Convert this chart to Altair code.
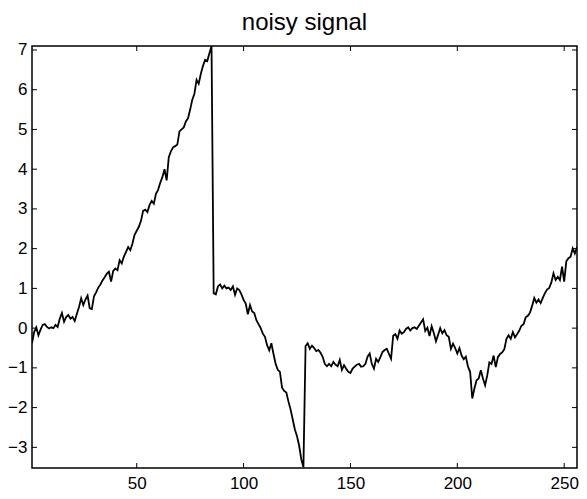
import altair as alt
import pandas as pd

# signal values, sample index 1..256
seg_a = [-0.38, -0.10, 0.02, -0.18, -0.04, 0.08, 0.10, 0.03, -0.01, 0.02,
         0.00, 0.08, 0.03, 0.24, 0.38, 0.16, 0.28, 0.33, 0.24, 0.28,
         0.18, 0.36, 0.53, 0.75, 0.58, 0.72, 0.82, 0.50, 0.48, 0.80,
         0.90, 1.02, 1.10, 1.20, 1.28, 1.37, 1.42, 1.17, 1.44, 1.50,
         1.46, 1.71, 1.63, 1.80, 1.92, 2.04, 1.96, 2.13]
seg_b = [2.35, 2.45, 2.55, 2.70, 2.95, 2.98, 2.92, 3.10, 3.20, 3.13,
         3.38, 3.48, 3.66, 3.80, 4.00, 3.72, 4.30, 4.45, 4.55, 4.58,
         4.62, 4.95, 5.00, 5.05, 5.20, 5.28, 5.50, 5.75, 5.90, 6.25,
         6.15, 6.40, 6.60, 6.75, 6.72, 6.92, 7.10]
seg_c = [0.88, 0.85, 1.05, 1.10, 1.00, 1.07, 1.00, 1.02, 0.96, 1.05,
         0.84, 1.00, 0.96, 0.85, 0.71, 0.62, 0.35, 0.58, 0.42, 0.38,
         0.20, 0.10, 0.00, -0.14, -0.22, -0.43, -0.56, -0.38, -0.65, -0.90,
         -1.05, -1.10, -1.50, -1.58, -1.62, -1.85, -2.05, -2.30, -2.55, -2.72,
         -2.96, -3.30, -3.50]
seg_d = [-0.45, -0.38, -0.52, -0.44, -0.50, -0.58, -0.55, -0.62, -0.72, -0.90,
         -0.96, -0.90, -0.96, -0.85, -0.92, -0.96, -0.80, -1.05, -0.93, -1.02,
         -1.10, -1.13, -1.02, -0.97, -0.92, -0.90, -0.97, -0.96, -0.90, -0.72,
         -0.64, -0.90, -1.02, -0.77, -0.85, -0.73, -0.60, -0.55, -0.52, -0.65,
         -0.77, -0.19, -0.15, -0.27, -0.06, -0.14, -0.10, -0.02, 0.02, -0.06,
         0.00, 0.02, -0.02, 0.06, 0.14, 0.22, -0.07, 0.01, -0.20, 0.05,
         -0.12, -0.33, -0.17, 0.00, -0.13, -0.05, -0.18, -0.22, -0.52, -0.39,
         -0.50, -0.64, -0.50, -0.69, -0.78, -0.72, -0.97, -1.10, -1.77, -1.52,
         -1.31, -1.27, -1.06, -1.27, -1.44, -1.19, -0.86, -0.90, -0.69, -0.98,
         -0.73, -0.65, -0.61, -0.53, -0.27, -0.18, -0.27, -0.10, -0.23, -0.15,
         -0.06, 0.06, 0.10, 0.27, 0.31, 0.39, 0.56, 0.76, 0.64, 0.72,
         0.63, 0.76, 0.88, 0.97, 1.01, 1.15, 1.38, 1.21, 1.29, 1.21,
         1.55, 1.17, 1.68, 1.76, 1.80, 2.01, 1.88, 2.04]

values = seg_a + seg_b + seg_c + seg_d
index = list(range(1, len(values) + 1))

x_ticks = [50, 100, 150, 200, 250]
y_ticks = [-3, -2, -1, 0, 1, 2, 3, 4, 5, 6, 7]
x_domain = [1, 256]
y_domain = [-3.52, 7.1]
title_text = "noisy signal"

W, H = 545, 422
FONT = "Liberation Sans"

df = pd.DataFrame({"n": index, "v": values})
tx = pd.DataFrame({"n": x_ticks})
ty = pd.DataFrame({"v": y_ticks})

xs = alt.Scale(domain=x_domain, nice=False, zero=False)
ys = alt.Scale(domain=y_domain, nice=False, zero=False)

x_axis = alt.Axis(values=x_ticks, title=None, grid=False, domain=False,
                  ticks=False, tickSize=0, labelFont=FONT, labelFontSize=17,
                  labelColor="black", labelPadding=7)
y_axis = alt.Axis(values=y_ticks, title=None, grid=False, domain=False,
                  ticks=False, tickSize=0, labelFont=FONT, labelFontSize=17,
                  labelColor="black", labelPadding=5)

line = alt.Chart(df).mark_line(color="black", strokeWidth=1.8, clip=True).encode(
    x=alt.X("n:Q", scale=xs, axis=x_axis),
    y=alt.Y("v:Q", scale=ys, axis=y_axis),
)

tick_len = 5
bottom_ticks = alt.Chart(tx).mark_rule(color="black", strokeWidth=1).encode(
    x=alt.X("n:Q", scale=xs, axis=x_axis), y=alt.value(H), y2=alt.value(H - tick_len))
top_ticks = alt.Chart(tx).mark_rule(color="black", strokeWidth=1).encode(
    x=alt.X("n:Q", scale=xs, axis=x_axis), y=alt.value(0), y2=alt.value(tick_len))
left_ticks = alt.Chart(ty).mark_rule(color="black", strokeWidth=1).encode(
    y=alt.Y("v:Q", scale=ys, axis=y_axis), x=alt.value(0), x2=alt.value(tick_len))
right_ticks = alt.Chart(ty).mark_rule(color="black", strokeWidth=1).encode(
    y=alt.Y("v:Q", scale=ys, axis=y_axis), x=alt.value(W), x2=alt.value(W - tick_len))

chart = alt.layer(line, bottom_ticks, top_ticks, left_ticks, right_ticks).properties(
    width=W, height=H,
    title=alt.TitleParams(title_text, font=FONT, fontSize=24, fontWeight="normal",
                          color="black", anchor="middle", baseline="alphabetic",
                          offset=0, dy=13),
    autosize=alt.AutoSizeParams(type="none"),
    padding={"left": 24, "top": 38, "right": 2, "bottom": 23},
    background="white",
).configure_view(stroke="black", strokeWidth=1.5)

chart.save("out.html", embed_options={"renderer": "svg", "actions": False})
